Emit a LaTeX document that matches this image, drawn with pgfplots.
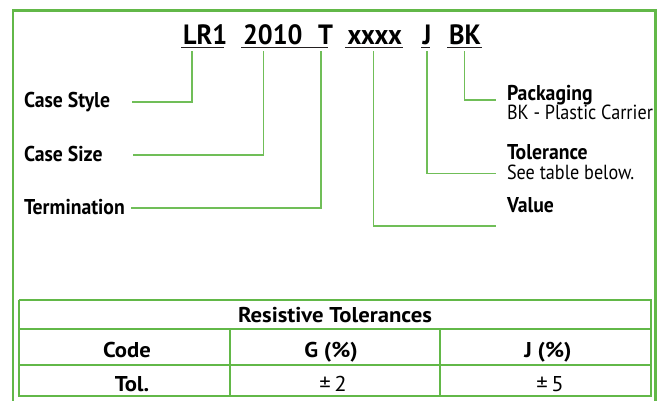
\documentclass[border=0pt]{standalone}
\usepackage{pgfplots}
\pgfplotsset{compat=1.18}
\usepackage{fontspec}
\setmainfont{PT Sans}
\newfontfamily\lbf{PT Sans}[FakeStretch=0.92]
\newfontfamily\rgf{PT Sans}[FakeStretch=0.89]
\newfontfamily\hdf{PT Sans}[FakeStretch=0.94]
\newfontfamily\tbf{PT Sans}[FakeStretch=1.06]
\definecolor{grn}{RGB}{98,184,72}
\definecolor{lgrn}{RGB}{112,190,88}
\definecolor{txt}{RGB}{35,31,32}
\newcommand{\hd}{\hdf\fontsize{28}{30}\selectfont\bfseries}
\newcommand{\lb}{\lbf\fontsize{21.5}{24}\selectfont\bfseries}
\newcommand{\rg}{\rgf\fontsize{20.5}{22}\selectfont}
\newcommand{\tb}{\tbf\fontsize{21.5}{24}\selectfont\bfseries}
\newcommand{\tr}{\tbf\fontsize{21.5}{24}\selectfont}
\begin{document}
\begin{tikzpicture}
\begin{axis}[
  scale only axis, width=660bp, height=400bp,
  xmin=0, xmax=660, ymin=0, ymax=400, y dir=reverse,
  axis lines=none, clip=true,
  every node/.style={text=txt, inner sep=0pt},
]
% outer frame
\addplot[grn, line width=2.2bp, mark=none] coordinates {(13,410) (13,10.5) (655.5,10.5) (655.5,410)};
% header underlines
\addplot[txt, line width=1.4bp, mark=none] coordinates {(181,47.5) (224,47.5)};
\addplot[txt, line width=1.4bp, mark=none] coordinates {(241,47.5) (328,47.5)};
\addplot[txt, line width=1.4bp, mark=none] coordinates {(345,47.5) (403,47.5)};
\addplot[txt, line width=1.4bp, mark=none] coordinates {(421,47.5) (430,47.5)};
\addplot[txt, line width=1.4bp, mark=none] coordinates {(447,47.5) (482,47.5)};
% leader lines
\addplot[lgrn, line width=1.3bp, mark=none] coordinates {(192,51) (192,102) (132,102)};
\addplot[lgrn, line width=1.3bp, mark=none] coordinates {(263.5,51) (263.5,155) (133,155)};
\addplot[lgrn, line width=1.3bp, mark=none] coordinates {(321,51) (321,208) (131,208)};
\addplot[lgrn, line width=1.3bp, mark=none] coordinates {(373.5,51) (373.5,226) (496,226)};
\addplot[lgrn, line width=1.3bp, mark=none] coordinates {(427,51) (427,173.5) (496,173.5)};
\addplot[lgrn, line width=1.3bp, mark=none] coordinates {(464.5,51) (464.5,100) (496,100)};
% table
\addplot[grn, line width=1.8bp, mark=none] coordinates {(19,300) (651,300) (651,396) (19,396) (19,300)};
\addplot[grn, line width=1.8bp, mark=none] coordinates {(19,329) (651,329)};
\addplot[grn, line width=1.8bp, mark=none] coordinates {(19,365) (651,365)};
\addplot[grn, line width=1.8bp, mark=none] coordinates {(230,329) (230,396)};
\addplot[grn, line width=1.8bp, mark=none] coordinates {(440,329) (440,396)};
% header text
\node[anchor=base west] at (axis cs:179.5,44) {\hd LR1};
\node[anchor=base west] at (axis cs:239.5,44) {\hd 2010};
\node[anchor=base west] at (axis cs:314.5,44) {\hd T};
\node[anchor=base west] at (axis cs:344,44) {\hd xxxx};
\node[anchor=base west] at (axis cs:419,44) {\hd J};
\node[anchor=base west] at (axis cs:445.5,44) {\hd BK};
% left labels
\node[anchor=base west] at (axis cs:20.5,107.5) {\lb Case Style};
\node[anchor=base west] at (axis cs:20.5,161) {\lb Case Size};
\node[anchor=base west] at (axis cs:20.5,214) {\lb Termination};
% right labels
\node[anchor=base west] at (axis cs:503.5,100) {\lb Packaging};
\node[anchor=base west] at (axis cs:503.5,119.5) {\rg BK - Plastic Carrier};
\node[anchor=base west] at (axis cs:503.5,159) {\lb Tolerance};
\node[anchor=base west] at (axis cs:503.5,179) {\rg See table below.};
\node[anchor=base west] at (axis cs:503.5,212) {\lb Value};
% table text
\node[anchor=base] at (axis cs:335,322) {\tb Resistive Tolerances};
\node[anchor=base] at (axis cs:127,357) {\tb Code};
\node[anchor=base] at (axis cs:331,357) {\tb G (\%)};
\node[anchor=base] at (axis cs:548,357) {\tb J (\%)};
\node[anchor=base] at (axis cs:132,391) {\tb Tol.};
\node[anchor=base] at (axis cs:333,391) {\tr ±\,2};
\node[anchor=base] at (axis cs:550,391) {\tr ±\,5};
\end{axis}
\pgfresetboundingbox
\path (current axis.south west) rectangle (current axis.north east);
\end{tikzpicture}
\end{document}
